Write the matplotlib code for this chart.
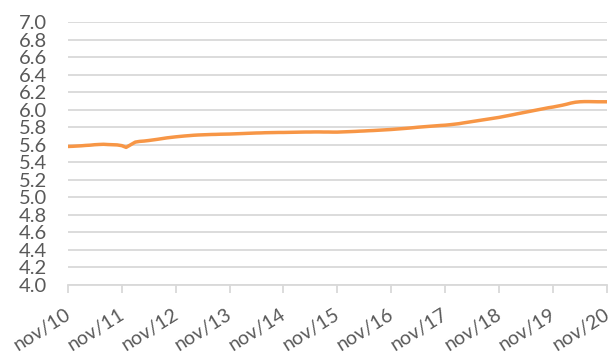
import matplotlib
matplotlib.use("Agg")
import matplotlib.pyplot as plt
import matplotlib.transforms as mtransforms
import pandas as pd

# monthly values nov/10 .. nov/20
y2011 = [5.580, 5.582, 5.585, 5.588, 5.592, 5.595, 5.600, 5.603, 5.605, 5.602, 5.600, 5.598]   # nov10-oct11
y2012 = [5.590, 5.570, 5.600, 5.630, 5.638, 5.642, 5.648, 5.655, 5.662, 5.670, 5.678, 5.684]   # nov11-oct12
y2013 = [5.690, 5.695, 5.700, 5.704, 5.708, 5.711, 5.713, 5.715, 5.717, 5.718, 5.720, 5.721]   # nov12-oct13
y2014 = [5.722, 5.724, 5.726, 5.728, 5.730, 5.732, 5.734, 5.735, 5.737, 5.738, 5.739, 5.740]   # nov13-oct14
y2015 = [5.740, 5.741, 5.742, 5.743, 5.744, 5.745, 5.745, 5.746, 5.746, 5.745, 5.745, 5.744]   # nov14-oct15
y2016 = [5.744, 5.746, 5.748, 5.750, 5.752, 5.755, 5.757, 5.760, 5.762, 5.765, 5.768, 5.771]   # nov15-oct16
y2017 = [5.774, 5.778, 5.782, 5.786, 5.790, 5.795, 5.800, 5.804, 5.808, 5.812, 5.816, 5.820]   # nov16-oct17
y2018 = [5.823, 5.828, 5.834, 5.840, 5.848, 5.856, 5.864, 5.872, 5.880, 5.888, 5.896, 5.904]   # nov17-oct18
y2019 = [5.912, 5.922, 5.932, 5.942, 5.952, 5.962, 5.972, 5.982, 5.992, 6.002, 6.012, 6.022]   # nov18-oct19
y2020 = [6.030, 6.040, 6.050, 6.062, 6.075, 6.085, 6.090, 6.092, 6.092, 6.091, 6.090, 6.090]   # nov19-oct20
y_last = [6.090]  # nov20
values = y2011 + y2012 + y2013 + y2014 + y2015 + y2016 + y2017 + y2018 + y2019 + y2020 + y_last
dates = pd.date_range("2010-11-01", periods=len(values), freq="MS")
tick_labels = ["nov/10", "nov/11", "nov/12", "nov/13", "nov/14", "nov/15",
               "nov/16", "nov/17", "nov/18", "nov/19", "nov/20"]
y_ticks = [4.0 + 0.2 * i for i in range(16)]

plt.rcParams['font.family'] = ['Lato', 'DejaVu Sans']
fig = plt.figure(figsize=(6.11, 3.53), dpi=100)
ax = fig.add_axes([0.111, 0.1926, 0.8825, 0.7451])

ax.plot(dates, values, color="#F79646", lw=2.5, solid_capstyle="round")

ax.set_ylim(4.0, 7.0)
ax.set_yticks(y_ticks)
ax.set_yticklabels([f"{v:.1f}" for v in y_ticks], fontsize=14.5, color="#595959")
ax.tick_params(axis="y", length=0, pad=15)
ax.grid(axis="y", color="#D9D9D9", lw=1.3)
ax.set_axisbelow(True)

tick_dates = pd.date_range("2010-11-01", periods=11, freq="12MS")
ax.set_xlim(dates[0], dates[-1])
ax.set_xticks(tick_dates)
ax.set_xticklabels(tick_labels, fontsize=14, color="#595959", rotation=32,
                   ha="right", va="center", rotation_mode="anchor")
ax.tick_params(axis="x", length=6, width=1.3, color="#D9D9D9", pad=14)
offset = mtransforms.ScaledTranslation(1 / 100, 0, fig.dpi_scale_trans)
for lab in ax.get_xticklabels():
    lab.set_transform(lab.get_transform() + offset)

for s in ["top", "right", "left"]:
    ax.spines[s].set_visible(False)
ax.spines["bottom"].set_color("#D9D9D9")
ax.spines["bottom"].set_linewidth(1.3)

fig.savefig("out.png", dpi=100)
